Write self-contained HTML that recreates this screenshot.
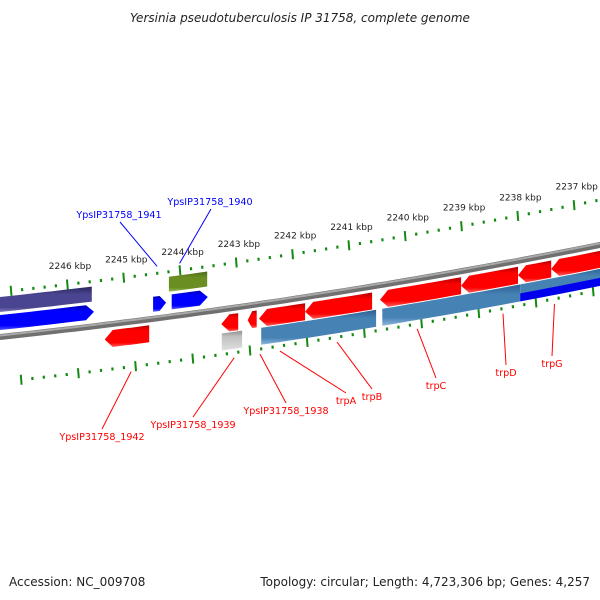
<!DOCTYPE html>
<html><head><meta charset="utf-8"><style>
body{margin:0;background:#fff}
svg{display:block;font-family:"DejaVu Sans","Liberation Sans",sans-serif}
</style></head><body>
<svg id="c" width="600" height="600" viewBox="0 0 600 600">
<defs>
<linearGradient id="gRed" x1="0" y1="0" x2="0" y2="1"><stop offset="0" stop-color="#b00000"/><stop offset="0.25" stop-color="#ff0000"/><stop offset="0.8" stop-color="#ff0000"/><stop offset="1" stop-color="#ff6060"/></linearGradient>
<linearGradient id="gBlue" x1="0" y1="0" x2="0" y2="1"><stop offset="0" stop-color="#0000b0"/><stop offset="0.25" stop-color="#0000ff"/><stop offset="0.8" stop-color="#0000ff"/><stop offset="1" stop-color="#6060ff"/></linearGradient>
<linearGradient id="gPurple" x1="0" y1="0" x2="0" y2="1"><stop offset="0" stop-color="#2a2660"/><stop offset="0.3" stop-color="#4a4590"/><stop offset="0.8" stop-color="#4a4590"/><stop offset="1" stop-color="#8a86c0"/></linearGradient>
<linearGradient id="gOlive" x1="0" y1="0" x2="0" y2="1"><stop offset="0" stop-color="#4a6a18"/><stop offset="0.3" stop-color="#6b8e23"/><stop offset="0.8" stop-color="#6b8e23"/><stop offset="1" stop-color="#a0c060"/></linearGradient>
<linearGradient id="gSteel" x1="0" y1="0" x2="0" y2="1"><stop offset="0" stop-color="#2f5f8f"/><stop offset="0.25" stop-color="#4682b4"/><stop offset="0.8" stop-color="#4682b4"/><stop offset="1" stop-color="#90b8e0"/></linearGradient>
<linearGradient id="gGray" x1="0" y1="0" x2="0" y2="1"><stop offset="0" stop-color="#909090"/><stop offset="0.3" stop-color="#c0c0c0"/><stop offset="1" stop-color="#e0e0e0"/></linearGradient>
</defs>
<text x="300" y="22" text-anchor="middle" font-size="12" font-style="italic" fill="#222">Yersinia pseudotuberculosis IP 31758, complete genome</text>
<text x="9" y="586" font-size="12" fill="#222">Accession: NC_009708</text>
<text x="590" y="586" text-anchor="end" font-size="12" fill="#222">Topology: circular; Length: 4,723,306 bp; Genes: 4,257</text>
<g id="layer"></g>
</svg>
<script>
// data (kbp)
const tickKbp = [2247,2246,2245,2244,2243,2242,2241,2240,2239,2238,2237,2236];
const tickLabels = ["2246 kbp","2245 kbp","2244 kbp","2243 kbp","2242 kbp","2241 kbp","2240 kbp","2239 kbp","2238 kbp","2237 kbp"];
const labelKbp = [2246,2245,2244,2243,2242,2241,2240,2239,2238,2237];
// features: start, end (kbp), row, fill, direction(1=right,-1=left,0=none)
const featStart = [2247.3,2247.3,2244.47,2244.14,2244.19,2245.33,2243.26,2242.79,2242.59,2241.77,2240.44,2239.00,2237.99,2237.40,2243.25,2242.55,2240.40,2237.95];
const featEnd   = [2245.56,2245.52,2244.24,2243.50,2243.51,2244.54,2242.96,2242.63,2241.77,2240.58,2239.00,2237.99,2237.40,2236.4,2242.89,2240.51,2237.95,2236.4];
const featRow   = ["t2","t1","t1","t1","t2","b1","b1","b1","b1","b1","b1","b1","b1","b1","b2","b2","b2","b2"];
const featFill  = ["gPurple","gBlue","gBlue","gBlue","gOlive","gRed","gRed","gRed","gRed","gRed","gRed","gRed","gRed","gRed","gGray","gSteel","gSteel","gSteel"];
const featDir   = [0,1,1,1,0,-1,-1,-1,-1,-1,-1,-1,-1,-1,0,0,0,0];
const geneNames = ["YpsIP31758_1942","YpsIP31758_1939","YpsIP31758_1938","trpA","trpB","trpC","trpD","trpG","YpsIP31758_1941","YpsIP31758_1940"];
const geneAnchorKbp = [2245.0,2243.2,2242.75,2242.4,2241.4,2240.0,2238.5,2237.6,2244.4,2244.0];
const geneLabelX = [102,193,286,346,372,436,506,552,119,210];
const geneLabelY = [440,428,414,404,400,389,376,367,218,205];
const geneColor = ["red","red","red","red","red","red","red","red","blue","blue"];

const NS="http://www.w3.org/2000/svg";
const layer=document.getElementById('layer');
function xk(k){return 67+(2246-k)*56.3;}
function xkb(k){return 78+(2246-k)*57.2;}
function base(x){return 337-0.1067*x-0.000078*x*x;}
const rowOff={t2:[-40,-25],t1:[-22,-7],b1:[6,23],b2:[24,41]};
function mk(tag,attrs){const e=document.createElementNS(NS,tag);for(const a in attrs)e.setAttribute(a,attrs[a]);layer.appendChild(e);return e;}
function curve(x1,x2,o){let p=[];const n=Math.max(2,Math.ceil(Math.abs(x2-x1)/10));for(let i=0;i<=n;i++){const x=x1+(x2-x1)*i/n;p.push([x,base(x)+o]);}return p;}

// backbone
let bp=curve(-5,605,0).map((p,i)=>(i?'L':'M')+p[0].toFixed(1)+','+p[1].toFixed(1)).join('');
let bb=mk('path',{d:bp,fill:'none',stroke:'#707070','stroke-width':6});

let bb2=mk('path',{d:bp,fill:'none',stroke:'#a8a8a8','stroke-width':2,transform:'translate(0,-1.5)'});


// ticks
function ticks(xf,off,name){
  for(let i=0;i<tickKbp.length-1;i++){
    for(let j=0;j<5;j++){
      const k=tickKbp[i]-j*0.2,x=xf(k);if(x<0||x>600)continue;
      const y=base(x)+off,h=j==0?5:1.5;
      const t=mk('line',{x1:x,y1:y-h,x2:x+(j==0?0.8:0.3),y2:y+h,stroke:'#138a13','stroke-width':j==0?2:2.2});
      
      
    }
  }
}
ticks(xk,-45,'top');ticks(xkb,45,'bottom');
labelKbp.forEach((k,i)=>{const x=xk(k)+3;const t=mk('text',{x:x,y:base(x)-60,'text-anchor':'middle','font-size':9,fill:'#222'});t.textContent=tickLabels[i];

});

// features
for(let i=0;i<featStart.length;i++){
  let x1=Math.min(xk(featStart[i]),xk(featEnd[i])),x2=Math.max(xk(featStart[i]),xk(featEnd[i]));
  const [o1,o2]=rowOff[featRow[i]];const d=featDir[i];const L=Math.min(8,(x2-x1)*0.5);
  let top,bot,pts=[];
  if(d==1){top=curve(x1,x2-L,o1);bot=curve(x2-L,x1,o2);pts=top.concat([[x2,base(x2)+(o1+o2)/2]],bot);}
  else if(d==-1){top=curve(x1+L,x2,o1);bot=curve(x2,x1+L,o2);pts=top.concat(bot,[[x1,base(x1)+(o1+o2)/2]]);}
  else{pts=curve(x1,x2,o1).concat(curve(x2,x1,o2));}
  const p=mk('polygon',{points:pts.map(q=>q[0].toFixed(1)+','+q[1].toFixed(1)).join(' '),fill:'url(#'+featFill[i]+')'});
  
  
}
// dark blue lower half under trpG region
{const x1=xk(2237.95),x2=605;const pts=curve(x1,x2,33).concat(curve(x2,x1,41));
const p=mk('polygon',{points:pts.map(q=>q.join(',')).join(' '),fill:'#0000ee'});

}

// gene labels
for(let i=0;i<geneNames.length;i++){
  const blue=geneColor[i]=='blue';
  const ax=blue?xk(geneAnchorKbp[i]):xkb(geneAnchorKbp[i])-4;
  const ay=base(ax)+(blue?-52:50);
  const ly=geneLabelY[i]+(blue?4:-11);
  const ln=mk('line',{x1:ax,y1:ay,x2:geneLabelX[i]+(blue?1:0),y2:ly,stroke:geneColor[i],'stroke-width':1});
  
  
  const t=mk('text',{x:geneLabelX[i],y:geneLabelY[i],'text-anchor':'middle','font-size':9.6,fill:geneColor[i]});
  t.textContent=geneNames[i];
  
  
}
</script>
</body></html>
